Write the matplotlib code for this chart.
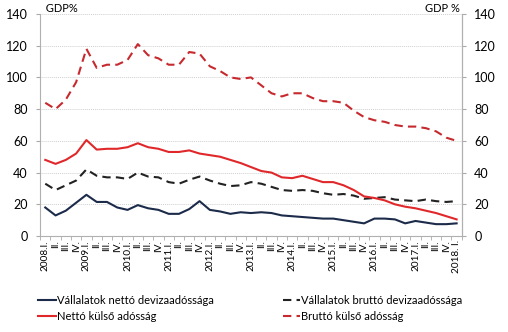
import matplotlib
matplotlib.use("Agg")
import matplotlib.pyplot as plt
import numpy as np

plt.rcParams['font.family'] = ['Lato', 'DejaVu Sans']

# quarters 2008.I -> 2018.I
years = list(range(2008, 2019))
quarters = []
for y in years:
    for q in ["I.", "II.", "III.", "IV."]:
        if y == 2018 and q != "I.":
            break
        quarters.append(q)
tick_labels = []
for i, q in enumerate(quarters):
    if q == "I.":
        yr = years[i // 4]
        tick_labels.append(f"{yr}. I." if yr == 2018 else f"{yr}.I.")
    else:
        tick_labels.append(q)

# GDP %
corp_net_fx = [18, 13, 16, 21, 26, 21.5, 21.5, 18, 16.5, 19.5, 17.5, 16.5, 14, 14, 17, 22,
               16.5, 15.5, 14, 15, 14.5, 15, 14.5, 13, 12.5, 12, 11.5, 11, 11, 10, 9, 8,
               11, 11, 10.5, 8, 9.5, 8.5, 7.5, 7.5, 8]
corp_gross_fx = [33, 29, 32, 35, 42, 38, 37, 37, 36, 40, 37.5, 37, 34, 33, 35.5, 37.5,
                 35, 33, 31.5, 32, 34, 33, 31, 29, 28.5, 29, 28.5, 27, 26, 26.5, 25.5, 23.5,
                 24, 24.5, 23, 22.5, 22, 23, 22, 21.5, 22]
net_ext = [48, 45.5, 48, 52, 60.5, 54.5, 55, 55, 56, 58.5, 56, 55, 53, 53, 54, 52,
           51, 50, 48, 46, 43.5, 41, 40, 37, 36.5, 38, 36, 34, 34, 32, 29, 25,
           24, 22.5, 20, 18.5, 17.5, 16, 14.5, 12.5, 10.5]
gross_ext = [84, 80, 86, 97, 118, 106, 108, 108, 111, 121, 114, 112, 108, 108, 116, 115,
             107, 104, 100, 99, 100, 95, 90, 88, 90, 90, 87, 85, 85, 84, 79, 75,
             73, 72, 70, 69, 69, 68, 66, 62, 60]

labels = ["Vállalatok nettó devizaadóssága", "Vállalatok bruttó devizaadóssága",
          "Nettó külső adósság", "Bruttó külső adósság"]

navy = '#1c2b4a'
red = '#e0282b'
dred = '#c62a2f'

fig = plt.figure(figsize=(5.08, 3.32), dpi=100)
ax = fig.add_axes([0.079, 0.289, 0.830, 0.669])
x = np.arange(len(tick_labels))

l1, = ax.plot(x, corp_net_fx, color=navy, lw=1.5)
l2, = ax.plot(x, corp_gross_fx, color='#222222', lw=1.5, dashes=(4, 2.5))
l3, = ax.plot(x, net_ext, color=red, lw=1.5)
l4, = ax.plot(x, gross_ext, color=dred, lw=1.5, dashes=(4, 2.5))

ax.set_xlim(-0.5, len(x) - 0.5)
ax.set_ylim(0, 140)
ax.set_yticks(range(0, 141, 20))
ax.yaxis.grid(True, color='#d0d0d0', lw=0.7, ls=(0, (1, 1)))
ax.set_axisbelow(True)

ax.set_xticks(x)
ax.set_xticklabels(tick_labels, rotation=90, fontsize=7.2)
ax.set_xticks(np.arange(-0.5, len(x), 1), minor=True)
ax.tick_params(axis='x', which='major', length=0, pad=3)
ax.tick_params(axis='x', which='minor', length=3, color='#aaaaaa', direction='out')
ax.tick_params(axis='y', labelsize=9, length=3, color='#aaaaaa', pad=6)

ax.spines['top'].set_visible(False)
for s in ['left', 'right', 'bottom']:
    ax.spines[s].set_color('#b0b0b0')
    ax.spines[s].set_linewidth(0.8)

ax2 = ax.twinx()
ax2.set_ylim(0, 140)
ax2.set_yticks(range(0, 141, 20))
ax2.tick_params(axis='y', labelsize=9, length=3, color='#aaaaaa', pad=6)
for s in ['top', 'left', 'bottom']:
    ax2.spines[s].set_visible(False)
ax2.spines['right'].set_color('#b0b0b0')
ax2.spines['right'].set_linewidth(0.8)

fig.text(0.079, 0.975, "  GDP%", fontsize=8, va='center', ha='left')
fig.text(0.905, 0.975, "GDP %", fontsize=8, va='center', ha='right')

# column-first fill: row 1 = corporate series, row 2 = external debt
fig.legend([l1, l3, l2, l4], [labels[0], labels[2], labels[1], labels[3]],
           loc='lower left', bbox_to_anchor=(0.055, 0.0),
           ncol=2, frameon=False, fontsize=8, handlelength=1.6, handletextpad=0.1,
           columnspacing=6.2, labelspacing=0.45)

fig.savefig("out.png", dpi=100)
